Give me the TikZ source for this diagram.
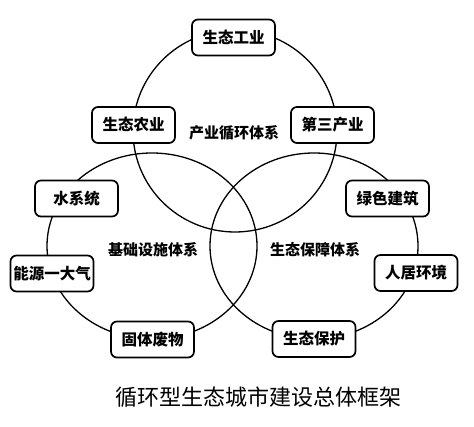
\documentclass[tikz,border=0pt]{standalone}
\usepackage{fontspec}
\newfontfamily\cjk{Noto Sans CJK SC}
\begin{document}
\begin{tikzpicture}[x=1pt,y=-1pt,
  box/.style={draw, line width=1.7pt, rounded corners=6pt, fill=white,
    minimum width=83pt, minimum height=36pt, inner sep=1pt,
    font=\cjk\bfseries\fontsize{15.5}{16}\selectfont},
  ring/.style={line width=1.3pt},
  lbl/.style={font=\cjk\bfseries\fontsize{15}{16}\selectfont},
  captiontext/.style={font=\cjk\fontsize{22}{24}\selectfont}]
\useasboundingbox (0,0) rectangle (474,427);
% circles
\draw[ring] (235,131) ellipse [x radius=102pt, y radius=101pt];
\draw[ring] (152,246) ellipse [x radius=105pt, y radius=93pt];
\draw[ring] (314,246) ellipse [x radius=104pt, y radius=93pt];
% boxes
\node[box] (gy) at (233.5,37.5) {生态工业};
\node[box] (ny) at (133.5,125) {生态农业};
\node[box] (ds) at (332.5,125) {第三产业};
\node[box] (sx) at (76.5,198.5) {水系统};
\node[box] (lj) at (387.5,198.5) {绿色建筑};
\node[box] (ny2) at (52,273.5) {能源一大气};
\node[box] (rj) at (416,273) {人居环境};
\node[box] (gt) at (152.5,339.5) {固体废物};
\node[box] (bh) at (314,339) {生态保护};
% labels
\node[lbl] (l1) at (234,133) {产业循环体系};
\node[lbl] (l2) at (153,250) {基础设施体系};
\node[lbl] (l3) at (315,250) {生态保障体系};
\node[captiontext] (c) at (258,397) {循环型生态城市建设总体框架};
\end{tikzpicture}
\end{document}
